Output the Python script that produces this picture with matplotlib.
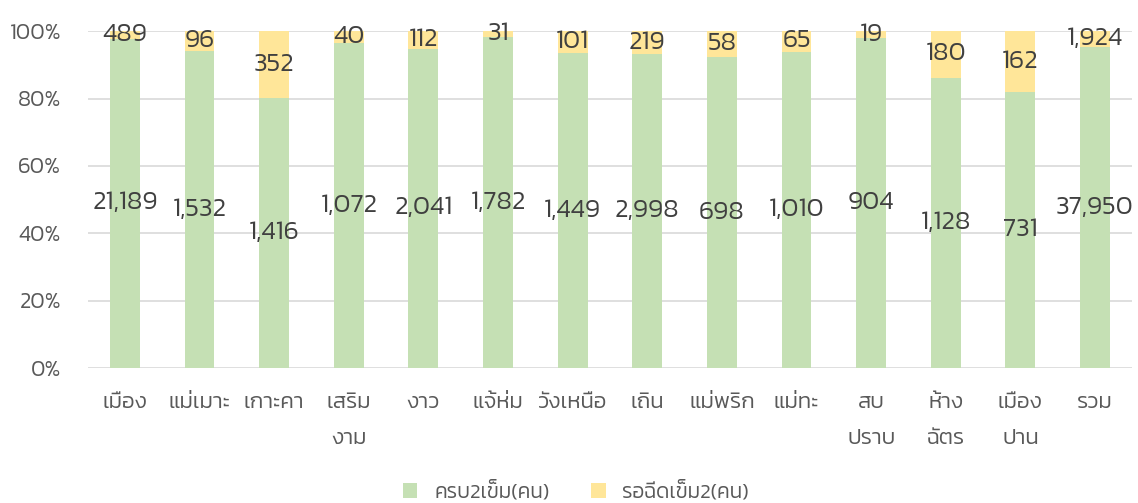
import matplotlib
matplotlib.use("Agg")
import matplotlib.pyplot as plt
import numpy as np

categories = ["เมือง", "แม่เมาะ", "เกาะคา", "เสริม\nงาม", "งาว", "แจ้ห่ม", "วังเหนือ",
              "เถิน", "แม่พริก", "แม่ทะ", "สบ\nปราบ", "ห้าง\nฉัตร", "เมือง\nปาน", "รวม"]
done2 = [21189, 1532, 1416, 1072, 2041, 1782, 1449, 2998, 698, 1010, 904, 1128, 731, 37950]
wait2 = [489, 96, 352, 40, 112, 31, 101, 219, 58, 65, 19, 180, 162, 1924]
series_names = ["ครบ2เข็ม(คน)", "รอฉีดเข็ม2(คน)"]

plt.rcParams['font.family'] = ['Kanit', 'DejaVu Sans']
plt.rcParams['font.weight'] = 300

green = "#C5E0B4"
yellow = "#FFE699"
txt = "#404040"
tick_c = "#595959"

done = np.array(done2, dtype=float)
wait = np.array(wait2, dtype=float)
tot = done + wait
pd_ = done / tot * 100
pw_ = wait / tot * 100

fig = plt.figure(figsize=(11.38, 5.03), dpi=100)
ax = fig.add_axes([0.077, 0.268, 0.918, 0.67])
x = np.arange(len(categories))
w = 0.4
ax.bar(x, pd_, w, color=green, label=series_names[0], zorder=2)
ax.bar(x, pw_, w, bottom=pd_, color=yellow, label=series_names[1], zorder=2)
for i in range(len(x)):
    ax.text(x[i], pd_[i] / 2, f"{done2[i]:,}", ha="center", va="center", fontsize=19, color=txt, zorder=3)
    ax.text(x[i], pd_[i] + pw_[i] / 2, f"{wait2[i]:,}", ha="center", va="center", fontsize=19, color=txt, zorder=3)

ax.set_xlim(-0.5, 13.5)
ax.set_ylim(0, 100)
ax.set_yticks(np.arange(0, 101, 20))
ax.set_yticklabels([f"{v}%" for v in range(0, 101, 20)])
ax.set_xticks(x)
ax.set_xticklabels(categories, linespacing=2.15)
ax.tick_params(axis="both", length=0, labelcolor=tick_c)
ax.tick_params(axis="x", pad=18, labelsize=16)
ax.tick_params(axis="y", pad=19, labelsize=16)
ax.grid(axis="y", color="#D9D9D9", linewidth=1.2, zorder=0)
for s in ax.spines.values():
    s.set_visible(False)

leg = fig.legend(loc="lower center", bbox_to_anchor=(0.506, -0.035), ncol=2, frameon=False,
                 fontsize=15, handlelength=0.7, handleheight=0.7, columnspacing=2.0, handletextpad=0.8)
for t in leg.get_texts():
    t.set_color(tick_c)

fig.savefig("out.png", dpi=100)
